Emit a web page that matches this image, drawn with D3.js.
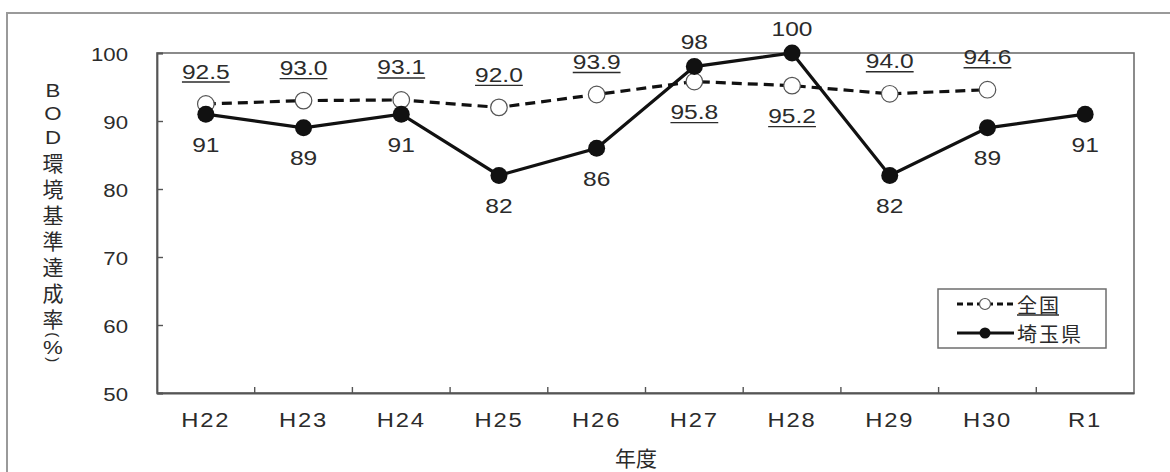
<!DOCTYPE html>
<html>
<head>
<meta charset="utf-8">
<script src="https://cdn.jsdelivr.net/npm/d3@7"></script>
<style>
  html, body { margin: 0; padding: 0; background: #fff; }
  svg { display: block; }
</style>
</head>
<body>
<svg id="chart" width="1170" height="472"></svg>
<script>
// Fiscal years
const categories = ["H22", "H23", "H24", "H25", "H26", "H27", "H28", "H29", "H30", "R1"];
// BOD environmental standard attainment rate (%), nationwide
const national = [92.5, 93.0, 93.1, 92.0, 93.9, 95.8, 95.2, 94.0, 94.6, null];
// BOD environmental standard attainment rate (%), Saitama Prefecture
const saitama = [91, 89, 91, 82, 86, 98, 100, 82, 89, 91];
// Which side of the point each value label sits on
const nationalLabelSide = ["above", "above", "above", "above", "above", "below", "below", "above", "above", null];
const saitamaLabelSide = ["below", "below", "below", "below", "below", "above", "above", "below", "below", "below"];
const yTicks = [50, 60, 70, 80, 90, 100];
const seriesNames = ["全国", "埼玉県"];
// Vertical y-axis title, one glyph per row
const yTitleChars = ["B", "O", "D", "環", "境", "基", "準", "達", "成", "率", "(", "%", ")"];
const xTitle = "年度";

const svg = d3.select("#chart");
const LATIN = "'Liberation Sans', Arial, sans-serif";
const CJK = "'Noto Sans CJK JP', 'Noto Sans', sans-serif";
const TEXT = "#2b2b2b";
const SX = 1.17; // horizontal stretch of numeric labels

const plot = { left: 157, top: 53, right: 1134, bottom: 393 };

const x = d3.scaleBand().domain(categories).range([plot.left, plot.right]);
const y = d3.scaleLinear().domain([50, 100]).range([plot.bottom, plot.top]);
const cx = c => x(c) + x.bandwidth() / 2;

// outer frame
svg.append("rect")
  .attr("x", 7).attr("y", 13).attr("width", 1200).attr("height", 500)
  .attr("fill", "none").attr("stroke", "#9a9a9a").attr("stroke-width", 2);

// plot frame
svg.append("rect")
  .attr("x", plot.left).attr("y", plot.top)
  .attr("width", plot.right - plot.left).attr("height", plot.bottom - plot.top)
  .attr("fill", "none").attr("stroke", "#6e6e6e").attr("stroke-width", 1.6);

// y axis with inward ticks
const yAxis = svg.append("g")
  .attr("transform", `translate(${plot.left},0)`)
  .call(d3.axisLeft(y).tickValues(yTicks).tickSize(-6).tickPadding(29).tickFormat(d3.format("d")));
yAxis.select(".domain").attr("stroke", "#555").attr("stroke-width", 1.8);
yAxis.selectAll(".tick line").attr("stroke", "#555").attr("stroke-width", 1.4);
yAxis.selectAll(".tick text")
  .attr("x", null).attr("dy", null)
  .attr("transform", `translate(-29,7) scale(${SX},1)`)
  .attr("font-family", LATIN).attr("font-size", 19).attr("fill", TEXT);

// x axis: labels centred in each band, ticks at band boundaries pointing up
const xAxis = svg.append("g")
  .attr("transform", `translate(0,${plot.bottom})`)
  .call(d3.axisBottom(x).tickSize(0).tickPadding(0));
xAxis.select(".domain").attr("stroke", "#555").attr("stroke-width", 1.8);
xAxis.selectAll(".tick text")
  .attr("y", null).attr("dy", null)
  .attr("transform", `translate(0,34) scale(${SX + 0.05},1)`)
  .attr("letter-spacing", 1.5)
  .attr("font-family", LATIN).attr("font-size", 19.5).attr("fill", TEXT);
svg.append("g").selectAll("line")
  .data(categories.slice(1))
  .join("line")
  .attr("x1", d => x(d)).attr("x2", d => x(d))
  .attr("y1", plot.bottom).attr("y2", plot.bottom - 6)
  .attr("stroke", "#555").attr("stroke-width", 1.4);

// axis titles
svg.append("text")
  .attr("x", 636).attr("y", 457)
  .attr("text-anchor", "middle")
  .attr("dominant-baseline", "central")
  .attr("font-family", CJK).attr("font-size", 21).attr("fill", TEXT)
  .text(xTitle);

const isParen = ch => ch === "(" || ch === ")";
const half = ch => /[A-Z]/.test(ch) ? 11.75 : ch === "%" ? 8.5 : isParen(ch) ? 4 : 13;
let cy = 90 - half(yTitleChars[0]);
const yTitle = svg.append("g");
yTitleChars.forEach(ch => {
  cy += half(ch);
  const latin = /[A-Z%()]/.test(ch);
  // parentheses turn a quarter clockwise, as in vertical writing
  const tf = isParen(ch)
    ? `translate(53,${cy}) rotate(90)`
    : `translate(53,${cy}) scale(${latin ? SX : 1},1)`;
  yTitle.append("text")
    .attr("transform", tf)
    .attr("text-anchor", "middle")
    .attr("dominant-baseline", "central")
    .attr("font-family", latin ? LATIN : CJK)
    .attr("font-size", isParen(ch) ? 15 : latin ? 19 : 21)
    .attr("fill", TEXT)
    .text(ch);
  cy += half(ch);
});

// lines
const nationalData = categories.map((c, i) => ({ c, v: national[i], side: nationalLabelSide[i] })).filter(d => d.v != null);
const saitamaData = categories.map((c, i) => ({ c, v: saitama[i], side: saitamaLabelSide[i] }));

const line = d3.line().x(d => cx(d.c)).y(d => y(d.v));

svg.append("path").datum(nationalData)
  .attr("d", line).attr("fill", "none")
  .attr("stroke", "#111").attr("stroke-width", 3.2).attr("stroke-dasharray", "10,6");
svg.append("g").selectAll("circle").data(nationalData).join("circle")
  .attr("cx", d => cx(d.c)).attr("cy", d => y(d.v)).attr("r", 8.3)
  .attr("fill", "#fff").attr("stroke", "#555").attr("stroke-width", 1.2);

svg.append("path").datum(saitamaData)
  .attr("d", line).attr("fill", "none")
  .attr("stroke", "#111").attr("stroke-width", 3.2);
svg.append("g").selectAll("circle").data(saitamaData).join("circle")
  .attr("cx", d => cx(d.c)).attr("cy", d => y(d.v)).attr("r", 8.5)
  .attr("fill", "#111");

// value labels
const VAL_FS = 21;
const capHalf = VAL_FS * 0.716 / 2;
function valueLabels(data, fmt, above, below, underline) {
  const g = svg.append("g");
  data.forEach(d => {
    const mid = y(d.v) + (d.side === "above" ? above : below);
    const t = g.append("text")
      .attr("transform", `translate(${cx(d.c)},${mid + capHalf}) scale(${SX},1)`)
      .attr("text-anchor", "middle")
      .attr("font-family", LATIN).attr("font-size", VAL_FS).attr("fill", TEXT)
      .text(fmt(d.v));
    if (underline) {
      const w = t.node().getComputedTextLength() * SX;
      g.append("line")
        .attr("x1", cx(d.c) - w / 2).attr("x2", cx(d.c) + w / 2)
        .attr("y1", mid + capHalf + 3.5).attr("y2", mid + capHalf + 3.5)
        .attr("stroke", TEXT).attr("stroke-width", 1.4);
    }
  });
}
valueLabels(nationalData, d3.format(".1f"), -33, 30, true);
valueLabels(saitamaData, d3.format("d"), -25, 30, false);

// legend
const legend = svg.append("g");
legend.append("rect")
  .attr("x", 938).attr("y", 289).attr("width", 168).attr("height", 59)
  .attr("fill", "#fff").attr("stroke", "#6e6e6e").attr("stroke-width", 1.5);
seriesNames.forEach((name, i) => {
  const ly = 304 + i * 29;
  legend.append("line")
    .attr("x1", 957).attr("x2", 1014).attr("y1", ly).attr("y2", ly)
    .attr("stroke", "#111").attr("stroke-width", 3)
    .attr("stroke-dasharray", i === 0 ? "6,4" : null);
  legend.append("circle")
    .attr("cx", 985).attr("cy", ly).attr("r", 5.5)
    .attr("fill", i === 0 ? "#fff" : "#111")
    .attr("stroke", i === 0 ? "#555" : "none").attr("stroke-width", 1.2);
  const t = legend.append("text")
    .attr("x", 1017).attr("y", ly)
    .attr("dominant-baseline", "central")
    .attr("letter-spacing", 2)
    .attr("font-family", CJK).attr("font-size", 20).attr("fill", TEXT)
    .text(name);
  if (i === 0) {
    const w = t.node().getComputedTextLength();
    legend.append("line")
      .attr("x1", 1017).attr("x2", 1017 + w - 2).attr("y1", ly + 11).attr("y2", ly + 11)
      .attr("stroke", TEXT).attr("stroke-width", 1.3);
  }
});
</script>
</body>
</html>
